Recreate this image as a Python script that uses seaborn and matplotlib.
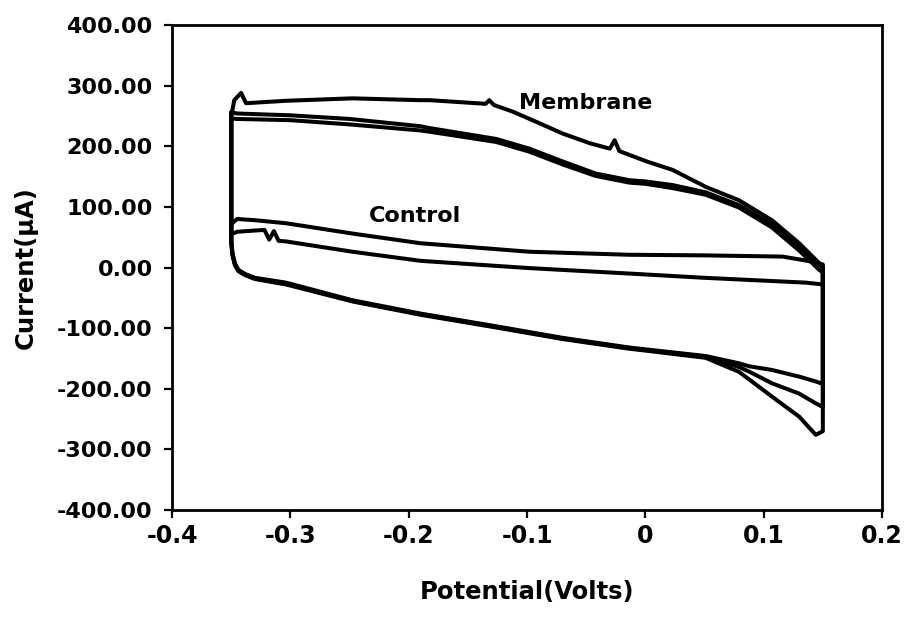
import numpy as np
import pandas as pd
import matplotlib
matplotlib.use("Agg")
import matplotlib.pyplot as plt
import seaborn as sns

# ---------------- data ----------------
# Membrane, cycle 1 (upper, first anodic scan)
mem1_ox_x = [-0.350, -0.3475, -0.3417, -0.3375, -0.3037, -0.2476, -0.191, -0.1825, -0.135,
             -0.132, -0.128, -0.112, -0.0896, -0.070, -0.047, -0.030, -0.026, -0.022,
             0.001, 0.023, 0.051, 0.079, 0.107, 0.130, 0.147, 0.150]
mem1_ox_y = [250, 276, 288, 271, 275, 279, 276, 276, 270,
             276, 268, 257, 238, 221, 205, 196, 210, 192,
             175, 161, 133, 111, 78, 40, 7, 2]

# Membrane, cycles 2 and 3 (anodic band)
mem_ox_x = [-0.350, -0.345, -0.300, -0.250, -0.190, -0.1825, -0.126, -0.098, -0.070,
            -0.042, -0.0135, 0.000, 0.023, 0.051, 0.079, 0.107, 0.130, 0.147, 0.150]
mem2_ox_y = [256, 254, 251, 245, 233, 230, 212, 196, 175,
             155, 144, 142, 136, 124, 103, 71, 34, 5, 0]
mem3_ox_y = [246, 245, 243, 236, 226, 224, 207, 191, 170,
             151, 140, 138, 131, 120, 99, 66, 28, -4, -8]

# Membrane cathodic scans (three cycles)
mem_red_x = [0.150, 0.144, 0.130, 0.107, 0.088, 0.079, 0.051, 0.000, -0.0135, -0.070,
             -0.126, -0.190, -0.2476, -0.3037, -0.330, -0.338, -0.344, -0.347, -0.349, -0.350]
mem1_red_y = [-270, -276, -246, -213, -185, -172, -149, -137, -134, -118,
              -99, -78, -56, -28, -19, -13, -6, 4, 20, 40]
mem2_red_y = [-230, -224, -208, -191, -172, -164, -147, -136, -133, -117,
              -98, -77, -55, -27, -18, -12, -5, 6, 22, 42]
mem3_red_y = [-192, -188, -180, -169, -163, -158, -146, -135, -132, -116,
              -97, -76, -54, -25, -17, -11, -4, 7, 24, 45]

# Control
ctrl_ox_x = [-0.350, -0.345, -0.330, -0.3037, -0.2476, -0.190, -0.098, -0.0135,
             0.050, 0.116, 0.140, 0.150]
ctrl_ox_y = [72, 80, 78, 73, 56, 40, 26, 21, 20, 18, 10, 5]
ctrl_red_x = [0.150, 0.136, 0.050, -0.0135, -0.098, -0.190, -0.2476, -0.3037,
              -0.310, -0.314, -0.318, -0.322, -0.345, -0.350]
ctrl_red_y = [-28, -25, -17, -10, -1, 11, 26, 43, 44, 60, 46, 62, 59, 55]

x_ticks = [-0.4, -0.3, -0.2, -0.1, 0.0, 0.1, 0.2]
x_tick_labels = ["-0.4", "-0.3", "-0.2", "-0.1", "0", "0.1", "0.2"]
y_ticks = [-400, -300, -200, -100, 0, 100, 200, 300, 400]
y_tick_labels = ["-400.00", "-300.00", "-200.00", "-100.00", "0.00",
                 "100.00", "200.00", "300.00", "400.00"]

# ---------------- build long table ----------------
def loop(name, ox_x, ox_y, red_x, red_y):
    xs = list(ox_x) + list(red_x) + [ox_x[0]]
    ys = list(ox_y) + list(red_y) + [ox_y[0]]
    return pd.DataFrame({"x": xs, "y": ys, "trace": name})

df = pd.concat([
    loop("mem1", mem1_ox_x, mem1_ox_y, mem_red_x, mem1_red_y),
    loop("mem2", mem_ox_x, mem2_ox_y, mem_red_x, mem2_red_y),
    loop("mem3", mem_ox_x, mem3_ox_y, mem_red_x, mem3_red_y),
    loop("ctrl", ctrl_ox_x, ctrl_ox_y, ctrl_red_x, ctrl_red_y),
], ignore_index=True)

# ---------------- plot ----------------
sns.set_theme(style="white")
plt.rcParams["font.family"] = ["DejaVu Sans"]
plt.rcParams["font.weight"] = "bold"
plt.rcParams["text.color"] = "black"

fig = plt.figure(figsize=(9.06, 6.17), dpi=100)
ax = fig.add_axes([0.19, 0.1734, 0.7835, 0.7861])

sns.lineplot(data=df, x="x", y="y", units="trace", estimator=None, sort=False,
             color="black", linewidth=2.9, ax=ax, legend=False)

ax.set_xlim(-0.4, 0.2)
ax.set_ylim(-400, 400)
ax.set_xticks(x_ticks)
ax.set_xticklabels(x_tick_labels)
ax.set_yticks(y_ticks)
ax.set_yticklabels(y_tick_labels)

for s in ax.spines.values():
    s.set_visible(True)
    s.set_color("black")
    s.set_linewidth(2.0)

ax.tick_params(axis="both", which="major", direction="out", length=6, width=1.6,
               color="black", labelcolor="black",
               bottom=True, left=True, top=False, right=False)
ax.tick_params(axis="x", pad=4, labelsize=17)
ax.tick_params(axis="y", pad=8, labelsize=16)
for lab in ax.get_xticklabels() + ax.get_yticklabels():
    lab.set_fontweight("bold")

ax.set_xlabel("Potential(Volts)", fontsize=17.5, fontweight="bold", color="black", labelpad=23)
ax.set_ylabel("Current(μA)", fontsize=17.5, fontweight="bold", color="black", labelpad=14)

ax.text(-0.1065, 271, "Membrane", fontsize=16, fontweight="bold", color="black",
        ha="left", va="center")
ax.text(-0.2333, 85, "Control", fontsize=16, fontweight="bold", color="black",
        ha="left", va="center")

fig.savefig("out.png", dpi=100, facecolor="white")
